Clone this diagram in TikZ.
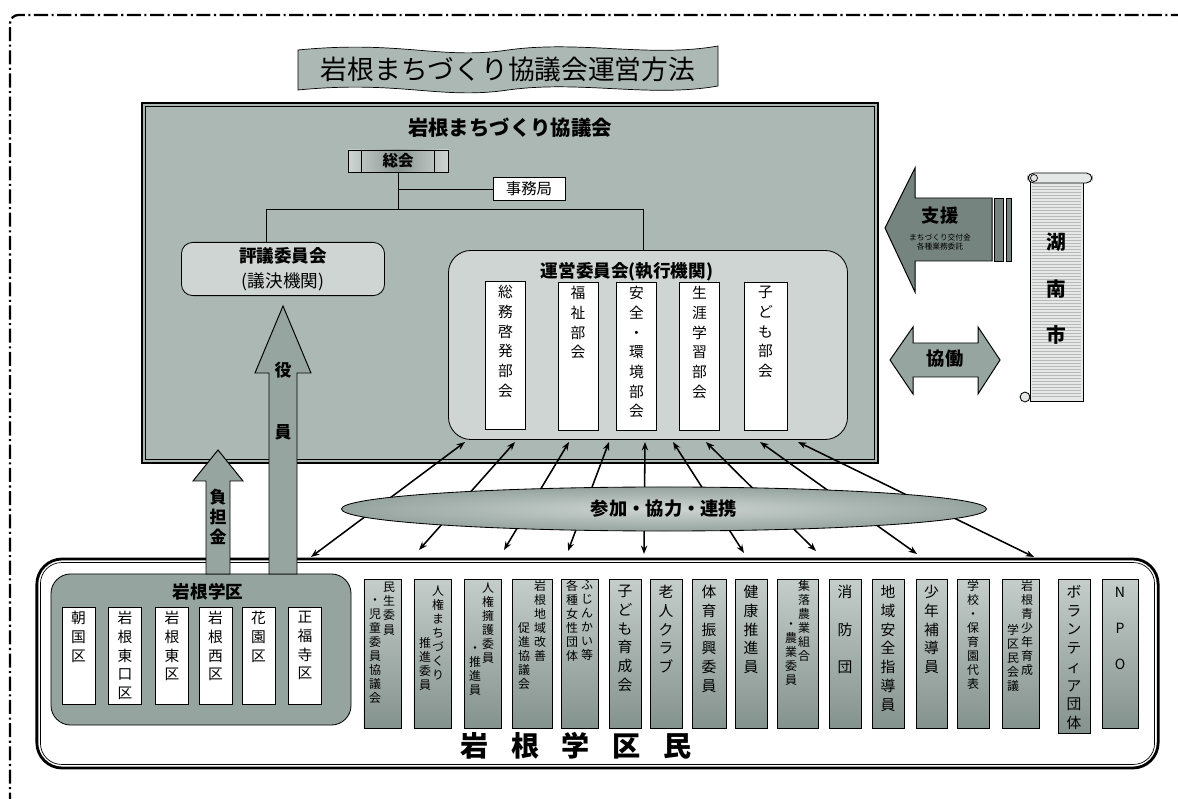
\documentclass[tikz,border=0pt]{standalone}
\usepackage{fontspec}
\setmainfont{Noto Sans CJK JP}
\usetikzlibrary{arrows.meta,positioning,calc,shapes.geometric}
\definecolor{bgmain}{RGB}{172,184,180}
\definecolor{bgpanel}{RGB}{206,213,210}
\definecolor{bggroup}{RGB}{150,164,159}
\definecolor{bgarrow}{RGB}{150,165,160}
\definecolor{bgdark}{RGB}{118,132,127}
\definecolor{coltop}{RGB}{196,205,202}
\definecolor{colbot}{RGB}{132,146,141}
\definecolor{scroll}{RGB}{228,232,230}

\begin{document}
\begin{tikzpicture}[x=0.025cm,y=-0.025cm,semithick,>={Stealth[length=6pt,width=4.5pt]},
 box/.style={draw,align=center,inner sep=1pt},
 panel/.style={draw,fill=bgpanel,rounded corners=8pt},
 wcol/.style={draw,fill=white,anchor=north,minimum width=1cm,minimum height=3.7cm},
 kcol/.style={draw,fill=white,anchor=north,minimum width=0.825cm,minimum height=2.425cm},
 mcol/.style={draw,top color=coltop,bottom color=colbot,anchor=north,minimum height=3.725cm},
 vt/.style={anchor=north,align=center,inner sep=0pt,font=\fontsize{10.5}{14}\selectfont},
 vm/.style={anchor=north,align=center,inner sep=0pt,font=\fontsize{10.5}{13.3}\selectfont},
 vs/.style={anchor=north,align=center,inner sep=0pt,font=\fontsize{8.5}{10}\selectfont},
 big/.style={draw,fill=bgarrow,line width=0.7pt},
 lbl/.style={font=\bfseries\fontsize{12}{14.2}\selectfont,align=center,inner sep=0pt}]
\useasboundingbox (0,0) rectangle (1178,799);
\clip (0,0) rectangle (1178,799);

\draw[line width=1.6pt,dash pattern=on 10pt off 2.5pt on 1.5pt off 2.5pt,rounded corners=6pt] (10,830) -- (10,15) -- (1178,15);

\draw[fill=bgmain,line width=0.5pt] (298,50) .. controls (400,40) and (440,60) .. (508,50) .. controls (580,40) and (650,58) .. (718,46) -- (718,86) .. controls (650,98) and (580,80) .. (508,90) .. controls (440,100) and (400,80) .. (298,90) -- cycle;
\node (title) at (508,69) {\fontsize{19}{20}\selectfont 岩根まちづくり協議会運営方法};

\node[draw,line width=1.6pt,fill=bgmain,minimum width=18.4cm,minimum height=9cm] (kyogi) at (510,283) {};
\draw[line width=0.6pt] ($(kyogi.north west)+(5,5)$) rectangle ($(kyogi.south east)+(-5,-5)$);
\node[font=\bfseries\fontsize{14.5}{16}\selectfont] (kname) at (510,128) {岩根まちづくり協議会};

\node[box,left color=bgpanel,right color=bgpanel,middle color=bgdark!85,minimum width=2.5cm,minimum height=0.55cm,font=\bfseries\fontsize{11}{12}\selectfont] (sokai) at (398,161) {総会};
\draw ($(sokai.north west)+(14,0)$) -- ($(sokai.south west)+(14,0)$);
\draw ($(sokai.north east)+(-14,0)$) -- ($(sokai.south east)+(-14,0)$);
\node[box,fill=white,minimum width=1.8cm,minimum height=0.575cm,font=\fontsize{11}{12}\selectfont] (jimu) at (529,189) {事務局};

\node[panel,minimum width=5.075cm,minimum height=1.325cm,align=center,font=\fontsize{12.5}{18}\selectfont] (hyogi) at (283,269) {\textbf{評議委員会}\\(議決機関)};
\node[panel,rounded corners=16pt,minimum width=9.975cm,minimum height=4.725cm] (unei) at (648,345) {};
\node[font=\bfseries\fontsize{12.5}{14}\selectfont] (uneiname) at (627,272) {運営委員会(執行機関)};

\coordinate (bar) at (398,209);
\coordinate (barL) at (266,209);
\coordinate (barR) at (643,209);
\draw (sokai.south) -- (bar);
\draw (sokai.south |- jimu.west) -- (jimu.west);
\draw (barL) -- (barR);
\draw (barL) -- (barL |- hyogi.north);
\draw (barR) -- (barR |- unei.north);

\node[wcol] (bu1) at (505.5,281) {}; \node[vt] (bu1t) at ($(bu1.north)+(0,4)$) {総\\務\\啓\\発\\部\\会};
\node[wcol] (bu2) at (578,282) {}; \node[vt] (bu2t) at ($(bu2.north)+(0,4)$) {福\\祉\\部\\会};
\node[wcol] (bu3) at (636.5,282) {}; \node[vt] (bu3t) at ($(bu3.north)+(0,4)$) {安\\全\\・\\環\\境\\部\\会};
\node[wcol] (bu4) at (699.5,282) {}; \node[vt] (bu4t) at ($(bu4.north)+(0,4)$) {生\\涯\\学\\習\\部\\会};
\node[wcol,minimum width=1.075cm] (bu5) at (765.5,282) {}; \node[vt] (bu5t) at ($(bu5.north)+(0,4)$) {子\\ど\\も\\部\\会};

\node[draw,line width=2pt,rounded corners=18pt,fill=white,minimum width=28.025cm,minimum height=5.225cm] (gakkumin) at (597.5,663.5) {};
\draw[line width=0.5pt,rounded corners=15pt] ($(gakkumin.north west)+(5,5)$) rectangle ($(gakkumin.south east)+(-5,-5)$);

\node[draw,fill=bggroup,rounded corners=14pt,minimum width=7.5cm,minimum height=3.775cm] (gakku) at (201,649.5) {};
\node[font=\bfseries\fontsize{12.5}{14}\selectfont] (gakkuname) at (208,592) {岩根学区};
\node[kcol] (k1) at (78.5,607) {}; \node[vm] (k1t) at (78.5,611) {朝\\国\\区};
\node[kcol] (k2) at (125,607) {}; \node[vm] (k2t) at (125,611) {岩\\根\\東\\口\\区};
\node[kcol] (k3) at (172,607) {}; \node[vm] (k3t) at (172,611) {岩\\根\\東\\区};
\node[kcol] (k4) at (215.5,607) {}; \node[vm] (k4t) at (215.5,611) {岩\\根\\西\\区};
\node[kcol] (k5) at (258.5,607) {}; \node[vm] (k5t) at (258.5,611) {花\\園\\区};
\node[kcol] (k6) at (305,607) {}; \node[vm] (k6t) at (305,611) {正\\福\\寺\\区};

\node[mcol,minimum width=0.925cm] (m1) at (382.5,579) {};
\node[vs] (m1r) at (389,582) {民\\生\\委\\員}; \node[vs] (m1l) at (375,598) {・\\児\\童\\委\\員\\協\\議\\会};
\node[mcol,minimum width=0.925cm] (m2) at (432.5,579) {};
\node[vs] (m2r) at (438,585) {人\\権\\ま\\ち\\づ\\く\\り}; \node[vs] (m2l) at (425,637) {推\\進\\委\\員};
\node[mcol,minimum width=0.925cm] (m3) at (482.5,579) {};
\node[vs] (m3r) at (488,582) {人\\権\\擁\\護\\委\\員}; \node[vs] (m3l) at (475,646) {・\\推\\進\\員};
\node[mcol,minimum width=1cm] (m4) at (532,579) {};
\node[vs] (m4r) at (540,580) {岩\\根\\地\\域\\改\\善}; \node[vs] (m4l) at (524,622) {促\\進\\協\\議\\会};
\node[mcol,minimum width=0.925cm] (m5) at (579.5,579) {};
\node[vs] (m5r) at (587,580) {ふ\\じ\\ん\\か\\い\\等}; \node[vs] (m5l) at (572,580) {各\\種\\女\\性\\団\\体};
\node[mcol,minimum width=0.8cm] (m6) at (625,579) {}; \node[vm] (m6t) at (625,585) {子\\ど\\も\\育\\成\\会};
\node[mcol,minimum width=0.8cm] (m7) at (666,579) {}; \node[vm] (m7t) at (666,585) {老\\人\\ク\\ラ\\ブ};
\node[mcol,minimum width=0.85cm] (m8) at (709,579) {}; \node[vm] (m8t) at (709,585) {体\\育\\振\\興\\委\\員};
\node[mcol,minimum width=0.8cm] (m9) at (751,579) {}; \node[vm] (m9t) at (751,585) {健\\康\\推\\進\\員};
\node[mcol,minimum width=1.025cm] (m10) at (797.5,579) {};
\node[vs] (m10r) at (804,580) {集\\落\\農\\業\\組\\合}; \node[vs] (m10l) at (791,622) {・\\農\\業\\委\\員};
\node[mcol,minimum width=0.8cm] (m11) at (845,579) {}; \node[vt,font=\fontsize{10.5}{26.5}\selectfont] (m11t) at (845,585) {消\\防\\団};
\node[mcol,minimum width=0.8cm] (m12) at (888,579) {}; \node[vm] (m12t) at (888,585) {地\\域\\安\\全\\指\\導\\員};
\node[mcol,minimum width=0.775cm] (m13) at (931.5,579) {}; \node[vm] (m13t) at (931.5,585) {少\\年\\補\\導\\員};
\node[mcol,minimum width=0.8cm] (m14) at (973,579) {}; \node[vs] (m14t) at (973,580) {学\\校\\・\\保\\育\\園\\代\\表};
\node[mcol,minimum width=0.925cm] (m15) at (1020.5,579) {};
\node[vs] (m15r) at (1027,580) {岩\\根\\青\\少\\年\\育\\成}; \node[vs] (m15l) at (1013,624) {学\\区\\民\\会\\議};
\node[mcol,minimum width=0.8cm,minimum height=3.85cm] (m16) at (1074,579) {}; \node[vm] (m16t) at (1074,585) {ボ\\ラ\\ン\\テ\\ィ\\ア\\団\\体};
\node[mcol,minimum width=0.9cm] (m17) at (1120,579) {}; \node[vt,font=\fontsize{10}{25.5}\selectfont] (m17t) at (1120,587) {N\\P\\O};

\node[font=\bfseries\fontsize{20}{22}\selectfont] (gakkuminname) at (576,746) {岩\hspace{0.8em}根\hspace{0.8em}学\hspace{0.8em}区\hspace{0.8em}民};

\foreach \i/\ux/\dx/\dy in {1/465/311/557,2/515/419/550,3/569/504/550,4/609/568/551,5/645/644/554,6/673/744/553,7/706/816/551,8/760/917/554,9/798/1034/557}{
 \coordinate (u\i) at (\ux,442);
 \coordinate (d\i) at (\dx,\dy);
 \draw[<->,line width=1.1pt] (d\i) -- (u\i);
}
\node[ellipse,draw,inner color=bgpanel,outer color=bggroup,minimum width=16.125cm,minimum height=1.1cm,font=\bfseries\fontsize{13}{14}\selectfont] (sanka) at (664,509) {参加・協力・連携};

\draw[big] (206,574) -- (206,481) -- (193,481) -- (218,450) -- (243,481) -- (230,481) -- (230,574) -- cycle;
\node[lbl] (futan) at (218,517) {負\\担\\金};
\draw[big] (269,574) -- (269,373) -- (255,373) -- (283,306) -- (311,373) -- (297,373) -- (297,574) -- cycle;
\node[lbl,font=\bfseries\fontsize{12}{44}\selectfont] (yakuin) at (283,401) {役\\員};

\draw[big,fill=bgdark] (885,228) -- (915,168) -- (915,198) -- (992,198) -- (992,261) -- (915,261) -- (915,292) -- cycle;
\draw[big,fill=bgdark] (994,198) rectangle (1003,261);
\draw[big,fill=bgdark] (1006,198) rectangle (1011,261);
\node[font=\bfseries\fontsize{13}{14}\selectfont] (shien) at (940,216) {支援};
\node[font=\fontsize{5.5}{7}\selectfont,align=center] (shiennote) at (940,242) {まちづくり交付金\\各種業務委託};

\draw[big] (890,360) -- (913,327) -- (913,343) -- (978,343) -- (978,327) -- (1000,360) -- (978,394) -- (978,377) -- (913,377) -- (913,394) -- cycle;
\node[font=\bfseries\fontsize{13}{14}\selectfont] (kyodo) at (945,359) {協働};

\draw[fill=scroll,line width=0.6pt] (1030,178) rectangle (1083,401);
\foreach \yy in {186,189,...,396} \draw[gray!55,line width=0.3pt] (1032,\yy) -- (1081,\yy);
\draw[fill=scroll,line width=0.6pt,rounded corners=4pt] (1028,173) rectangle (1092,183);
\draw[line width=0.5pt] (1034,178) circle (2.5pt);
\draw[fill=scroll,line width=0.6pt] (1025,397) circle (3.5pt);
\node[font=\bfseries\fontsize{14}{33}\selectfont,align=center] (konan) at (1056,289) {湖\\南\\市};
\end{tikzpicture}
\end{document}
